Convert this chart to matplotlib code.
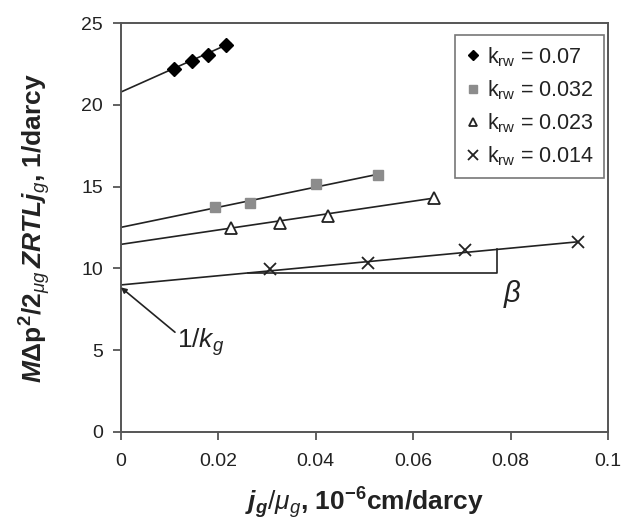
import matplotlib
matplotlib.use("Agg")
import matplotlib.pyplot as plt
import numpy as np

plt.rcParams['font.family'] = ['Liberation Sans', 'DejaVu Sans']
plt.rcParams['mathtext.fontset'] = 'custom'
plt.rcParams['mathtext.rm'] = 'Liberation Sans'
plt.rcParams['mathtext.it'] = 'Liberation Sans:italic'
plt.rcParams['mathtext.bf'] = 'Liberation Sans:bold'
plt.rcParams['mathtext.bfit'] = 'Liberation Sans:italic:bold'

# Measured points, one set per water relative permeability
krw_labels = ['0.07', '0.032', '0.023', '0.014']
x_070 = [0.0109, 0.0145, 0.0179, 0.0216]
y_070 = [22.17, 22.70, 23.03, 23.65]
x_032 = [0.0193, 0.0265, 0.0400, 0.0527]
y_032 = [13.73, 13.98, 15.14, 15.71]
x_023 = [0.0227, 0.0326, 0.0426, 0.0642]
y_023 = [12.45, 12.80, 13.21, 14.30]
x_014 = [0.0306, 0.0508, 0.0706, 0.0939]
y_014 = [9.96, 10.31, 11.12, 11.63]

# Straight-line fits: intercept (1/k_g), slope (beta) and drawn extent
fit_intercepts = [20.78, 12.51, 11.47, 8.99]
fit_slopes = [133.0, 61.5, 44.0, 28.1]
fit_xmax = [0.0225, 0.0525, 0.0642, 0.0939]

# Slope triangle on the k_rw = 0.014 line
beta_x0, beta_x1 = 0.026, 0.0773

fig = plt.figure(figsize=(6.33, 5.23), dpi=100)
ax = fig.add_axes([0.191, 0.174, 0.7695, 0.782])

series = [
    (x_070, y_070, dict(marker='D', color='black', markersize=7, linestyle='none')),
    (x_032, y_032, dict(marker='s', color='#8c8c8c', markersize=7, linestyle='none')),
    (x_023, y_023, dict(marker='^', markerfacecolor='white', markeredgecolor='#222222',
                        markeredgewidth=1.3, markersize=8, linestyle='none')),
    (x_014, y_014, dict(marker='x', color='#222222', markeredgewidth=1.3, markersize=9,
                        linestyle='none')),
]

for (xs, ys, style), lab, b0, m, xm in zip(series, krw_labels, fit_intercepts,
                                           fit_slopes, fit_xmax):
    xl = np.array([0.0, xm])
    ax.plot(xl, b0 + m * xl, color='#222222', linewidth=1.2, zorder=2)
    ax.plot(xs, ys, label=r'k$_{\rm rw}$ = ' + lab, zorder=3, **style)

# Slope triangle
b0, m = fit_intercepts[3], fit_slopes[3]
y_base = b0 + m * beta_x0
ax.plot([beta_x0, beta_x1, beta_x1], [y_base, y_base, b0 + m * beta_x1],
        color='#222222', linewidth=1.2, zorder=2)
ax.text(beta_x1 + 0.0012, y_base - 0.3, r'$\beta$', fontsize=21, ha='left', va='top',
        family='DejaVu Serif', style='italic', color='#222222')

# Intercept annotation: arrow to the y-axis crossing, label below-right
ax.annotate('', xy=(0.0, b0 - 0.15), xytext=(0.0111, 6.1),
            arrowprops=dict(arrowstyle='-|>', color='#222222', linewidth=1.2,
                            shrinkA=0, shrinkB=0, mutation_scale=8))
ax.text(0.0116, 5.5, r'1/$k_g$', fontsize=19, color='#222222', ha='left', va='center')

ax.set_xlim(0, 0.1)
ax.set_ylim(0, 25)
ax.set_xticks([0, 0.02, 0.04, 0.06, 0.08, 0.1])
ax.set_xticklabels(['0', '0.02', '0.04', '0.06', '0.08', '0.1'])
ax.set_yticks([0, 5, 10, 15, 20, 25])

for sp in ax.spines.values():
    sp.set_color('#555555')
    sp.set_linewidth(1.4)
ax.tick_params(direction='out', length=6, width=1.3, color='#555555',
               labelsize=14, labelcolor='#222222')
ax.tick_params(axis='x', pad=9)
ax.tick_params(axis='y', pad=7)

ax.set_xlabel(r'$\mathbfit{j_g}\mathit{/\mu_g}$, 10$^{\mathbf{-6}}$cm/darcy',
              fontsize=19, fontweight='bold', color='#222222', labelpad=11)
ax.set_ylabel(r'$\mathbfit{M}\mathbf{\Delta p}^{\mathbf{2}}\mathbf{/2}_{\mathit{\mu g}}\,'
              r'\mathbfit{ZRTLj}_{\mathit{g}}$, 1/darcy',
              fontsize=19, fontweight='bold', color='#222222', labelpad=20)

leg = ax.legend(loc='upper right', bbox_to_anchor=(0.992, 0.97), fontsize=15.5,
                frameon=True, fancybox=False, handlelength=0.75, handletextpad=0.3,
                borderpad=0.45, labelspacing=0.45, borderaxespad=0.0, markerscale=0.8)
leg.get_frame().set_edgecolor('#555555')
leg.get_frame().set_linewidth(1.2)
for t in leg.get_texts():
    t.set_color('#222222')

fig.savefig('out.png', dpi=100)
